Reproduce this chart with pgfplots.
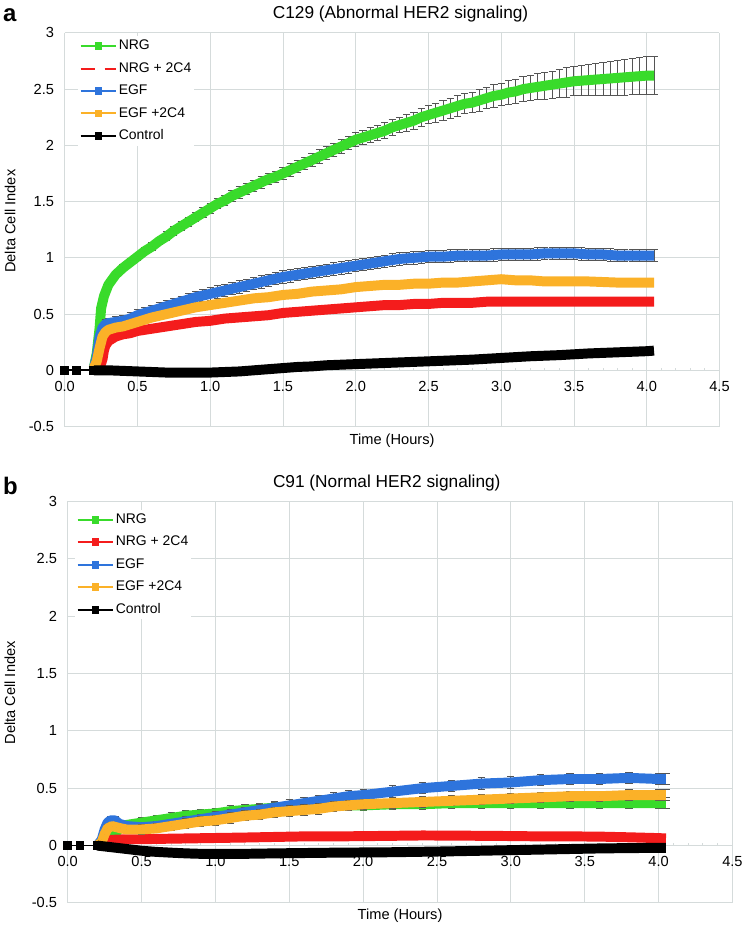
\documentclass[border=0pt]{standalone}
\usepackage{pgfplots}
\pgfplotsset{compat=1.18}
\usepackage{pgfplotstable}
\usepackage{fontspec}
\setmainfont{Liberation Sans}

\definecolor{cgreen}{HTML}{39DB2B}
\definecolor{cred}{HTML}{F41C1C}
\definecolor{cblue}{HTML}{2E74DC}
\definecolor{corange}{HTML}{FBB128}
\definecolor{gridc}{HTML}{D5DBDB}
\definecolor{errc}{HTML}{555555}

% ---------------- Panel a ----------------
\pgfplotstableread{
t v e
0.20 0.02 0
0.22 0.15 0
0.24 0.38 0.01
0.25 0.55 0.01
0.27 0.66 0.02
0.30 0.76 0.02
0.35 0.85 0.02
0.40 0.91 0.03
0.45 0.96 0.03
0.50 1.01 0.03
0.55 1.06 0.03
0.60 1.10 0.035
0.65 1.15 0.035
0.70 1.19 0.04
0.75 1.24 0.04
0.80 1.28 0.04
0.85 1.32 0.04
0.90 1.36 0.04
0.95 1.40 0.045
1.00 1.44 0.045
1.05 1.48 0.045
1.10 1.51 0.045
1.15 1.55 0.05
1.20 1.58 0.05
1.25 1.61 0.05
1.30 1.64 0.05
1.35 1.67 0.05
1.40 1.70 0.05
1.45 1.72 0.05
1.50 1.75 0.05
1.55 1.78 0.055
1.60 1.81 0.055
1.65 1.84 0.055
1.70 1.87 0.055
1.75 1.90 0.06
1.80 1.93 0.06
1.85 1.96 0.06
1.90 1.99 0.06
1.95 2.02 0.06
2.00 2.05 0.06
2.05 2.07 0.065
2.10 2.09 0.065
2.15 2.11 0.07
2.20 2.13 0.07
2.25 2.16 0.07
2.30 2.18 0.07
2.35 2.20 0.075
2.40 2.22 0.075
2.45 2.25 0.08
2.50 2.27 0.08
2.55 2.29 0.085
2.60 2.31 0.085
2.65 2.33 0.09
2.70 2.35 0.09
2.75 2.37 0.09
2.80 2.38 0.09
2.85 2.40 0.095
2.90 2.42 0.095
2.95 2.44 0.10
3.00 2.45 0.10
3.05 2.47 0.105
3.10 2.48 0.105
3.15 2.50 0.11
3.20 2.51 0.11
3.25 2.52 0.115
3.30 2.53 0.12
3.35 2.54 0.12
3.40 2.55 0.125
3.45 2.56 0.13
3.50 2.57 0.13
3.55 2.575 0.135
3.60 2.58 0.14
3.65 2.585 0.145
3.70 2.59 0.15
3.75 2.595 0.15
3.80 2.60 0.155
3.85 2.605 0.16
3.90 2.61 0.16
3.95 2.615 0.165
4.00 2.62 0.17
4.05 2.62 0.17
}\aNRG

\pgfplotstableread{
t v e
0.20 0.02 0
0.22 0.12 0
0.24 0.30 0.02
0.26 0.38 0.03
0.28 0.41 0.04
0.30 0.42 0.045
0.35 0.43 0.05
0.40 0.44 0.05
0.45 0.46 0.05
0.50 0.49 0.05
0.55 0.51 0.05
0.60 0.53 0.05
0.65 0.55 0.05
0.70 0.57 0.05
0.75 0.59 0.05
0.80 0.61 0.05
0.85 0.63 0.05
0.90 0.65 0.055
0.95 0.665 0.055
1.00 0.68 0.055
1.05 0.695 0.055
1.10 0.71 0.055
1.15 0.725 0.055
1.20 0.74 0.055
1.25 0.755 0.055
1.30 0.77 0.055
1.35 0.785 0.055
1.40 0.80 0.055
1.45 0.815 0.055
1.50 0.83 0.055
1.55 0.84 0.055
1.60 0.85 0.055
1.65 0.86 0.055
1.70 0.87 0.055
1.75 0.88 0.055
1.80 0.89 0.055
1.85 0.90 0.055
1.90 0.91 0.055
1.95 0.92 0.055
2.00 0.93 0.055
2.05 0.94 0.055
2.10 0.95 0.055
2.15 0.96 0.055
2.20 0.97 0.055
2.25 0.98 0.055
2.30 0.99 0.055
2.35 0.995 0.055
2.40 1.00 0.055
2.45 1.005 0.055
2.50 1.01 0.055
2.55 1.01 0.055
2.60 1.01 0.055
2.65 1.015 0.055
2.70 1.02 0.055
2.75 1.02 0.055
2.80 1.02 0.055
2.85 1.02 0.055
2.90 1.02 0.055
2.95 1.025 0.055
3.00 1.03 0.055
3.05 1.03 0.055
3.10 1.03 0.055
3.15 1.03 0.055
3.20 1.03 0.055
3.25 1.035 0.055
3.30 1.04 0.055
3.35 1.04 0.055
3.40 1.04 0.055
3.45 1.04 0.055
3.50 1.04 0.055
3.55 1.035 0.055
3.60 1.03 0.055
3.65 1.03 0.055
3.70 1.03 0.055
3.75 1.025 0.055
3.80 1.02 0.055
3.85 1.02 0.055
3.90 1.02 0.055
3.95 1.02 0.055
4.00 1.02 0.055
4.05 1.02 0.055
}\aEGF

\pgfplotstableread{
t v
0.20 0.00
0.24 0.02
0.26 0.10
0.27 0.18
0.28 0.22
0.30 0.26
0.35 0.30
0.40 0.32
0.45 0.33
0.50 0.35
0.60 0.37
0.70 0.39
0.80 0.41
0.90 0.43
1.00 0.44
1.10 0.46
1.20 0.47
1.30 0.48
1.40 0.49
1.50 0.51
1.60 0.52
1.70 0.53
1.80 0.54
1.90 0.55
2.00 0.56
2.10 0.57
2.20 0.58
2.30 0.58
2.40 0.59
2.50 0.59
2.60 0.60
2.70 0.60
2.80 0.60
2.90 0.61
3.00 0.61
3.20 0.61
3.40 0.61
3.60 0.61
3.80 0.61
4.00 0.61
4.05 0.61
}\aNRGc

\pgfplotstableread{
t v
0.20 0.02
0.22 0.08
0.24 0.20
0.26 0.30
0.28 0.34
0.30 0.36
0.35 0.38
0.40 0.39
0.45 0.41
0.50 0.43
0.60 0.47
0.70 0.50
0.80 0.53
0.90 0.56
1.00 0.58
1.10 0.60
1.20 0.62
1.30 0.64
1.40 0.65
1.50 0.67
1.60 0.68
1.70 0.70
1.80 0.71
1.90 0.72
2.00 0.74
2.10 0.75
2.20 0.76
2.30 0.76
2.40 0.77
2.50 0.77
2.60 0.78
2.70 0.78
2.80 0.79
2.90 0.80
3.00 0.81
3.10 0.80
3.20 0.80
3.30 0.79
3.40 0.79
3.60 0.79
3.80 0.78
4.00 0.78
4.05 0.78
}\aEGFc

\pgfplotstableread{
t v
0.20 0.000
0.30 0.000
0.40 -0.005
0.50 -0.010
0.60 -0.015
0.70 -0.020
0.80 -0.020
0.90 -0.020
1.00 -0.020
1.10 -0.015
1.20 -0.010
1.30 0.000
1.40 0.010
1.50 0.020
1.60 0.030
1.70 0.035
1.80 0.045
1.90 0.050
2.00 0.055
2.20 0.065
2.40 0.075
2.60 0.085
2.80 0.095
3.00 0.110
3.20 0.125
3.40 0.135
3.60 0.150
3.80 0.160
4.00 0.170
4.05 0.175
}\aCtrl

% ---------------- Panel b ----------------
\pgfplotstableread{
t v e
0.20 0.00 0
0.25 0.01 0
0.27 0.03 0
0.30 0.07 0.01
0.33 0.12 0.02
0.36 0.16 0.03
0.40 0.18 0.04
0.45 0.19 0.04
0.50 0.20 0.045
0.60 0.22 0.045
0.70 0.24 0.045
0.80 0.26 0.045
0.90 0.27 0.045
1.00 0.28 0.045
1.10 0.30 0.045
1.20 0.31 0.045
1.30 0.32 0.045
1.40 0.33 0.045
1.50 0.33 0.045
1.60 0.34 0.045
1.70 0.34 0.045
1.80 0.35 0.045
1.90 0.35 0.045
2.00 0.35 0.045
2.20 0.36 0.045
2.40 0.36 0.045
2.60 0.37 0.045
2.80 0.37 0.045
3.00 0.37 0.045
3.20 0.37 0.045
3.40 0.37 0.045
3.60 0.37 0.045
3.80 0.37 0.045
4.00 0.37 0.045
4.05 0.37 0.045
}\bNRG

\pgfplotstableread{
t v
0.20 0.000
0.23 0.010
0.25 0.030
0.27 0.045
0.30 0.050
0.40 0.055
0.50 0.055
0.60 0.058
0.80 0.062
1.00 0.066
1.20 0.070
1.40 0.075
1.60 0.080
1.80 0.080
2.00 0.082
2.20 0.085
2.40 0.088
2.60 0.087
2.80 0.085
3.00 0.083
3.20 0.080
3.40 0.080
3.60 0.078
3.80 0.072
4.00 0.065
4.05 0.062
}\bNRGc

\pgfplotstableread{
t v e
0.20 0.00 0
0.23 0.05 0.01
0.25 0.14 0.02
0.27 0.20 0.03
0.29 0.22 0.03
0.32 0.22 0.03
0.35 0.19 0.03
0.40 0.17 0.03
0.50 0.16 0.04
0.60 0.17 0.04
0.70 0.19 0.04
0.80 0.21 0.045
0.90 0.23 0.045
1.00 0.25 0.045
1.10 0.27 0.045
1.20 0.29 0.045
1.30 0.31 0.05
1.40 0.33 0.05
1.50 0.35 0.05
1.60 0.37 0.05
1.70 0.39 0.05
1.80 0.41 0.05
1.90 0.43 0.05
2.00 0.44 0.05
2.20 0.47 0.05
2.40 0.50 0.05
2.60 0.52 0.05
2.80 0.54 0.05
3.00 0.55 0.05
3.20 0.57 0.05
3.40 0.58 0.05
3.60 0.58 0.05
3.80 0.59 0.05
4.00 0.58 0.05
4.05 0.58 0.05
}\bEGF

\pgfplotstableread{
t v e
0.20 0.00 0
0.23 0.03 0.01
0.25 0.10 0.02
0.27 0.15 0.03
0.30 0.17 0.03
0.33 0.16 0.03
0.36 0.15 0.03
0.40 0.14 0.03
0.50 0.14 0.04
0.60 0.15 0.04
0.70 0.17 0.04
0.80 0.19 0.045
0.90 0.21 0.045
1.00 0.22 0.045
1.10 0.24 0.045
1.20 0.26 0.045
1.30 0.27 0.045
1.40 0.29 0.045
1.50 0.30 0.045
1.60 0.31 0.045
1.70 0.32 0.045
1.80 0.34 0.045
1.90 0.35 0.045
2.00 0.36 0.045
2.20 0.37 0.045
2.40 0.38 0.045
2.60 0.39 0.045
2.80 0.40 0.045
3.00 0.41 0.045
3.20 0.42 0.045
3.40 0.43 0.045
3.60 0.43 0.045
3.80 0.44 0.045
4.00 0.44 0.045
4.05 0.44 0.045
}\bEGFc

\pgfplotstableread{
t v
0.20 0.000
0.30 -0.015
0.40 -0.030
0.50 -0.045
0.60 -0.055
0.70 -0.062
0.80 -0.068
0.90 -0.072
1.00 -0.073
1.20 -0.072
1.40 -0.068
1.60 -0.065
1.80 -0.062
2.00 -0.060
2.20 -0.058
2.40 -0.054
2.60 -0.050
2.80 -0.045
3.00 -0.040
3.20 -0.035
3.40 -0.030
3.60 -0.025
3.80 -0.022
4.00 -0.020
4.05 -0.020
}\bCtrl

\pgfplotsset{
  layers/mylayers/.define layer set={axis background,axis grid,axis ticks,axis lines,main,axis tick labels,axis descriptions,axis foreground}{
    grid style={/pgfplots/on layer=axis grid},
    tick style={/pgfplots/on layer=axis ticks},
    axis line style={/pgfplots/on layer=axis lines},
    label style={/pgfplots/on layer=axis descriptions},
    legend style={/pgfplots/on layer=axis descriptions},
    title style={/pgfplots/on layer=axis descriptions},
    colorbar style={/pgfplots/on layer=axis descriptions},
    ticklabel style={/pgfplots/on layer=axis tick labels},
    axis background@ style={/pgfplots/on layer=axis background},
    3d box foreground style={/pgfplots/on layer=axis foreground},
  },
  panel/.style={
    set layers=mylayers,
    scale only axis,
    xmin=0, xmax=4.5, ymin=-0.5, ymax=3,
    axis x line*=middle, axis y line*=left,
    hide obscured x ticks=false,
    xtick={0,0.5,1,1.5,2,2.5,3,3.5,4,4.5},
    ytick={-0.5,0,0.5,1,1.5,2,2.5,3},
    minor x tick num=4,
    grid=major,
    major grid style={gridc, line width=0.7pt},
    axis line style={gridc, line width=0.7pt},
    tick align=inside,
    major tick length=2pt, minor tick length=2pt,
    x tick style={gridc, line width=0.7pt},
    minor x tick style={gridc, line width=0.7pt},
    y tick style={draw=none},
    /pgf/number format/assume math mode=true,
    x tick label style={/pgf/number format/.cd, fixed, fixed zerofill, precision=1, assume math mode=true, /tikz/.cd, yshift=-4.5pt},
    y tick label style={/pgf/number format/assume math mode=true, xshift=-4.5pt},
    tick label style={font=\fontsize{11}{13}\selectfont},
    label style={font=\fontsize{11}{13}\selectfont},
    title style={font=\fontsize{13}{15}\selectfont},
    legend cell align=left,
    legend style={draw=none, fill=white, inner xsep=1pt, inner ysep=1pt,
      font=\fontsize{10.5}{12}\selectfont,
      nodes={inner sep=1pt, text height=8pt, text depth=2.5pt},
      row sep=4.4pt},
    legend image code/.code={%
      \draw[mark repeat=2, mark phase=2, #1] plot coordinates {(0pt,0pt) (13.5pt,0pt) (27pt,0pt)};},
    thick line/.style={line width=7.5pt, line join=round, mark=none, forget plot},
    stub/.style={line width=1.3pt, mark=square*, mark size=2.7pt, forget plot},
    errs/.style={forget plot, only marks, mark=*, mark size=0pt, mark options={draw=none, fill=none},
      error bars/.cd, y dir=both, y explicit,
      error bar style={draw=errc, line width=0.75pt},
      error mark options={rotate=90, draw=errc, mark size=2.7pt, line width=0.75pt}},
  }
}

\begin{document}
\begin{tikzpicture}
\path (0pt,0pt) rectangle (558.75pt,-695.25pt);

\node[font=\bfseries\fontsize{18}{18}\selectfont, anchor=base west, inner sep=0pt] at (1.5pt,-16.3pt) {a};
\node[font=\bfseries\fontsize{18}{18}\selectfont, anchor=base west, inner sep=0pt] at (1.5pt,-372.5pt) {b};

% ---------- Panel a ----------
\begin{axis}[panel,
  at={(48pt,-321pt)}, anchor=south west,
  width=492.75pt, height=296.25pt,
  title={C129 (Abnormal HER2 signaling)},
  title style={at={([xshift=6.4pt,yshift=4.7pt]axis description cs:0.5,1)}, anchor=base},
  xlabel={Time (Hours)},
  xlabel style={at={([yshift=-13.5pt]axis description cs:0.5,0)}, anchor=base},
  ylabel={Delta Cell Index},
  ylabel style={at={([xshift=-33.5pt,yshift=6.4pt]axis description cs:0,0.5)}, anchor=south},
  legend style={at={(0,1)}, anchor=north west, xshift=10pt, yshift=-2.5pt},
]
\addlegendimage{cgreen, line width=1.5pt, mark=square*, mark size=2.2pt}
\addlegendentry{NRG}
\addlegendimage{cred, line width=1.5pt, dash pattern=on 11pt off 7pt}
\addlegendentry{NRG + 2C4}
\addlegendimage{cblue, line width=1.5pt, mark=square*, mark size=2.2pt}
\addlegendentry{EGF}
\addlegendimage{corange, line width=1.5pt, mark=square*, mark size=2.2pt}
\addlegendentry{EGF +2C4}
\addlegendimage{black, line width=1.5pt, mark=square*, mark size=2.2pt}
\addlegendentry{Control}

\addplot[errs] table[x=t, y=v, y error=e] {\aNRG};
\addplot[cgreen, stub] coordinates {(0,0) (0.083,0) (0.2,0)};
\addplot[cgreen, thick line] table[x=t, y=v] {\aNRG};
\addplot[cred, stub] coordinates {(0,0) (0.083,0) (0.2,0)};
\addplot[cred, thick line] table[x=t, y=v] {\aNRGc};
\addplot[errs] table[x=t, y=v, y error=e] {\aEGF};
\addplot[cblue, stub] coordinates {(0,0) (0.083,0) (0.2,0)};
\addplot[cblue, thick line] table[x=t, y=v] {\aEGF};
\addplot[corange, stub] coordinates {(0,0) (0.083,0) (0.2,0)};
\addplot[corange, thick line] table[x=t, y=v] {\aEGFc};
\addplot[black, stub] coordinates {(0,0) (0.083,0) (0.2,0)};
\addplot[black, thick line] table[x=t, y=v] {\aCtrl};
\end{axis}

% ---------- Panel b ----------
\begin{axis}[panel,
  at={(50.25pt,-679.5pt)}, anchor=south west,
  width=500.25pt, height=302.25pt,
  title={C91 (Normal HER2 signaling)},
  title style={at={([xshift=-10pt,yshift=4.7pt]axis description cs:0.5,1)}, anchor=base},
  xlabel={Time (Hours)},
  xlabel style={at={([yshift=-12.5pt]axis description cs:0.5,0)}, anchor=base},
  ylabel={Delta Cell Index},
  ylabel style={at={([xshift=-36pt,yshift=7pt]axis description cs:0,0.5)}, anchor=south},
  legend style={at={(0,1)}, anchor=north west, xshift=5.5pt, yshift=-6.5pt},
]
\addlegendimage{cgreen, line width=1.5pt, mark=square*, mark size=2.2pt}
\addlegendentry{NRG}
\addlegendimage{cred, line width=1.5pt, mark=square*, mark size=2.2pt}
\addlegendentry{NRG + 2C4}
\addlegendimage{cblue, line width=1.5pt, mark=square*, mark size=2.2pt}
\addlegendentry{EGF}
\addlegendimage{corange, line width=1.5pt, mark=square*, mark size=2.2pt}
\addlegendentry{EGF +2C4}
\addlegendimage{black, line width=1.5pt, mark=square*, mark size=2.2pt}
\addlegendentry{Control}

\addplot[errs] table[x=t, y=v, y error=e] {\bNRG};
\addplot[cgreen, stub] coordinates {(0,0) (0.083,0) (0.2,0)};
\addplot[cgreen, thick line] table[x=t, y=v] {\bNRG};
\addplot[cred, stub] coordinates {(0,0) (0.083,0) (0.2,0)};
\addplot[cred, thick line] table[x=t, y=v] {\bNRGc};
\addplot[errs] table[x=t, y=v, y error=e] {\bEGF};
\addplot[cblue, stub] coordinates {(0,0) (0.083,0) (0.2,0)};
\addplot[cblue, thick line] table[x=t, y=v] {\bEGF};
\addplot[errs] table[x=t, y=v, y error=e] {\bEGFc};
\addplot[corange, stub] coordinates {(0,0) (0.083,0) (0.2,0)};
\addplot[corange, thick line] table[x=t, y=v] {\bEGFc};
\addplot[black, stub] coordinates {(0,0) (0.083,0) (0.2,0)};
\addplot[black, thick line] table[x=t, y=v] {\bCtrl};
\end{axis}
\end{tikzpicture}
\end{document}
